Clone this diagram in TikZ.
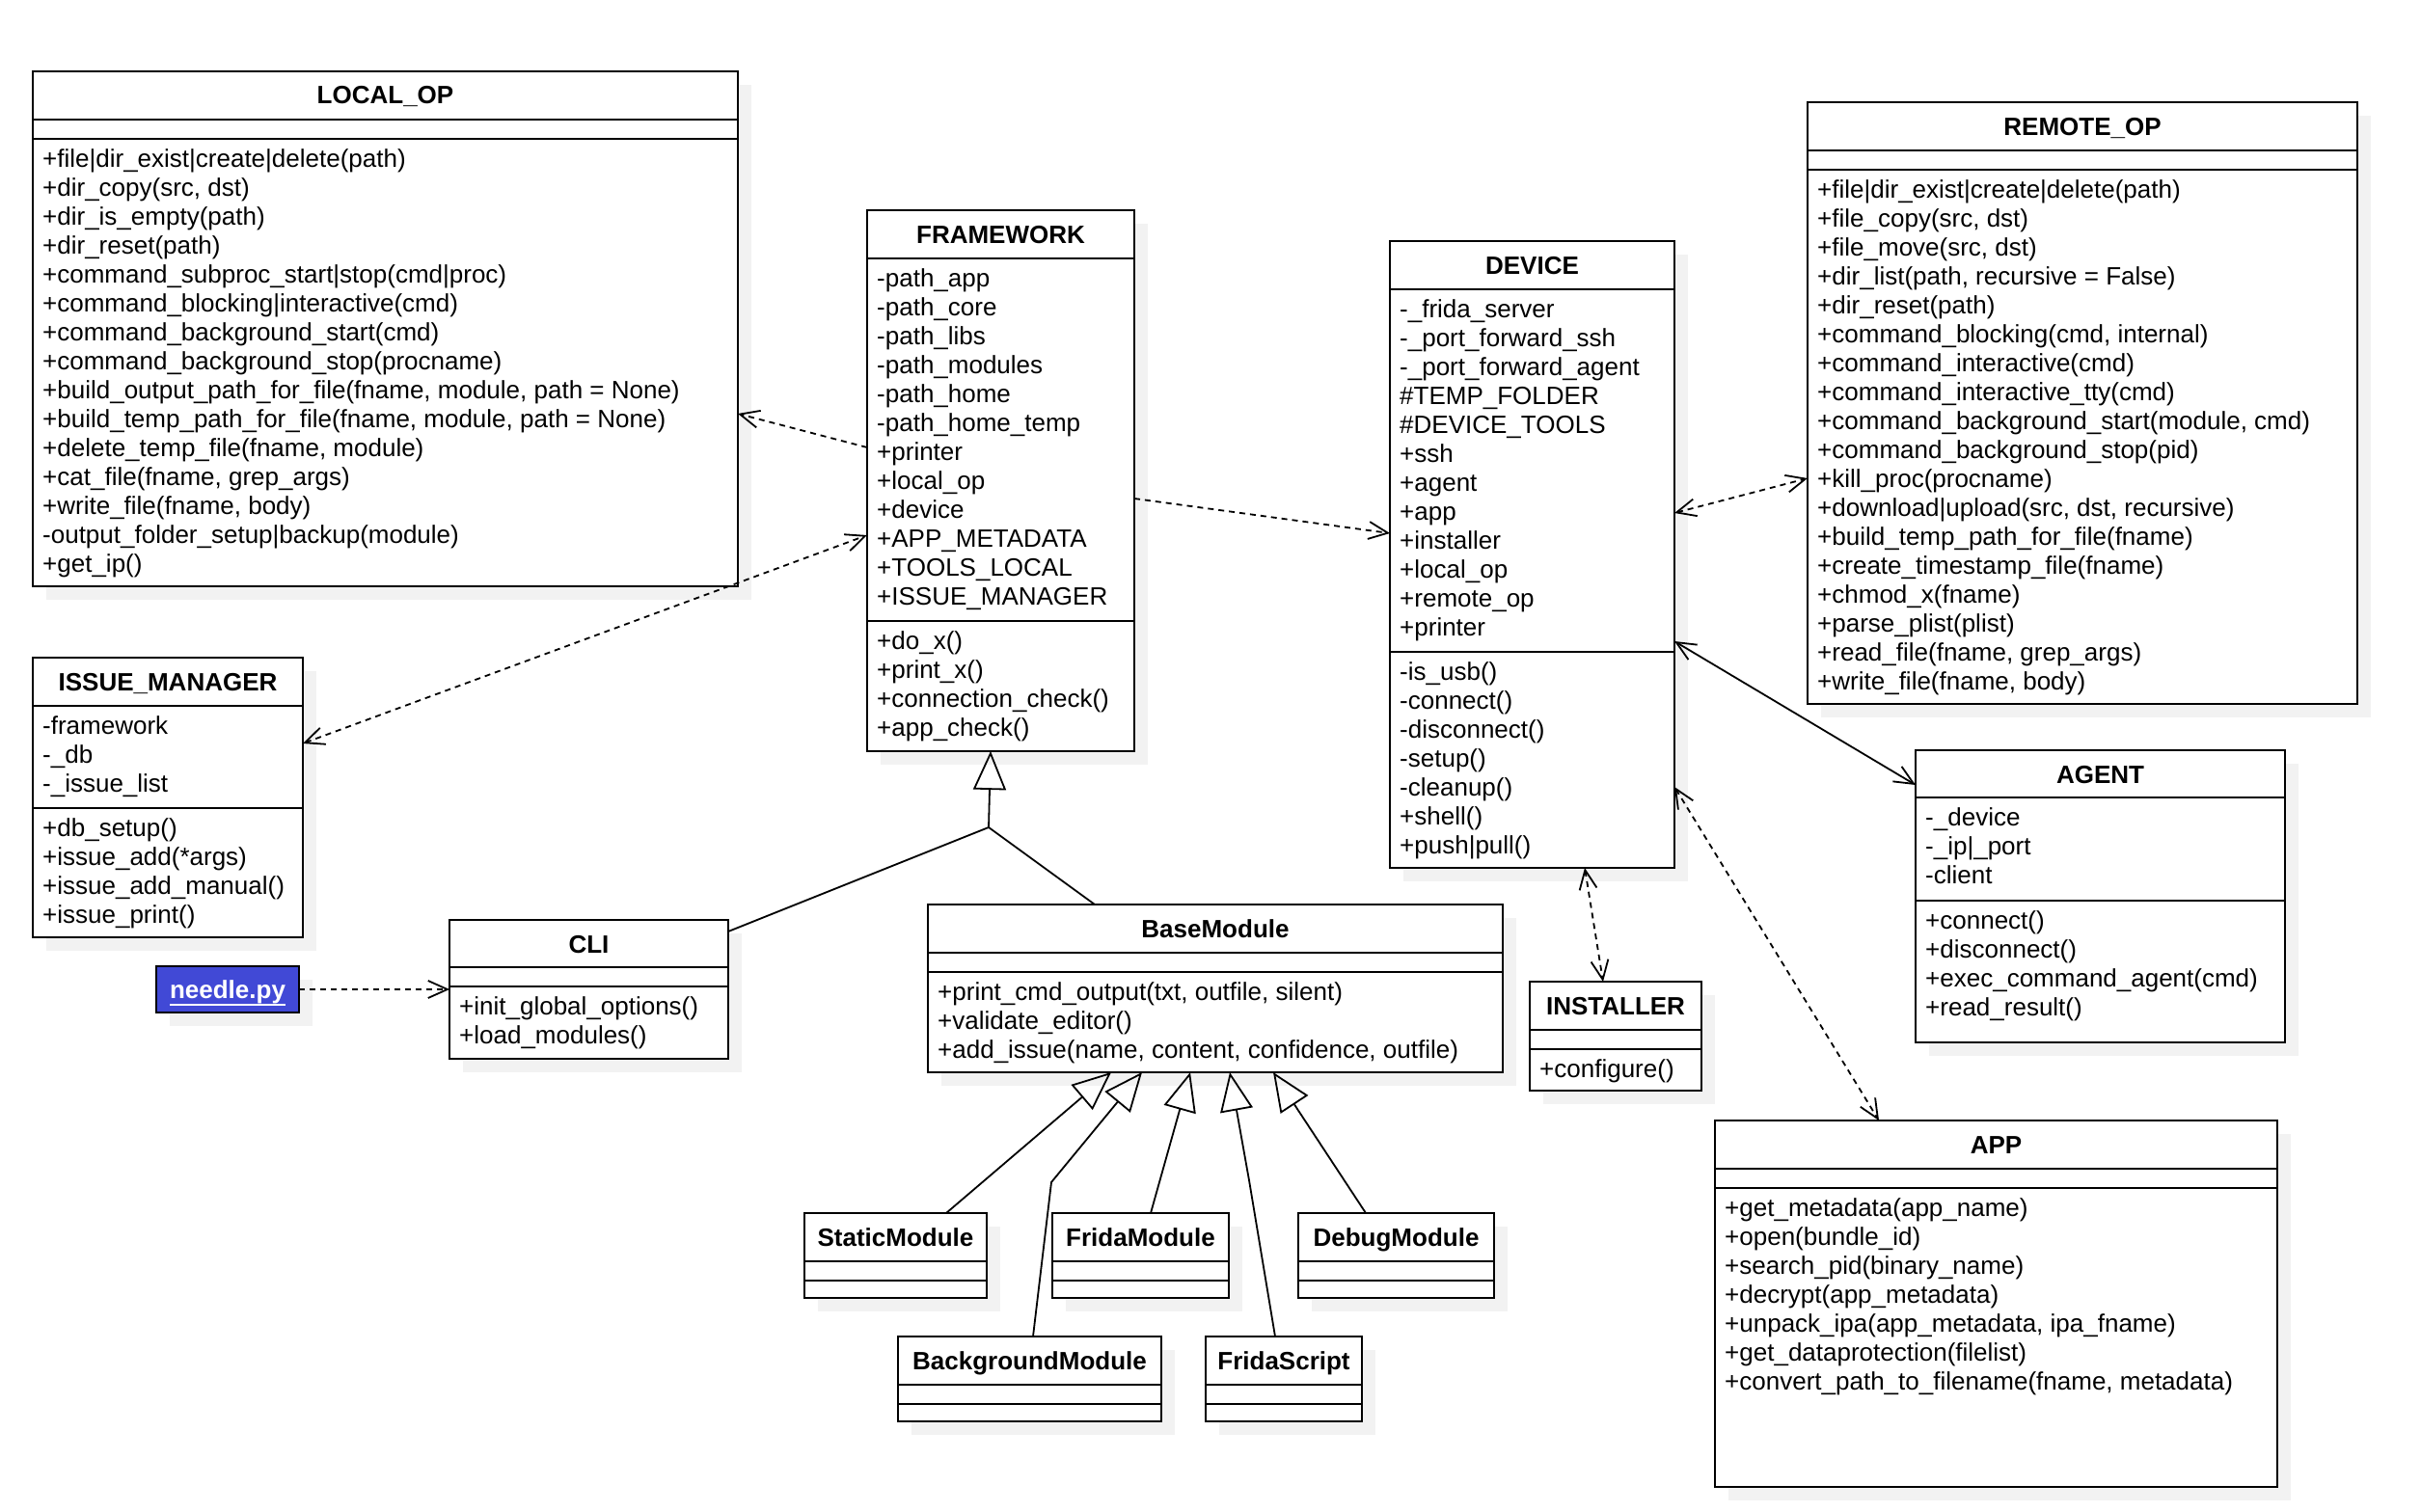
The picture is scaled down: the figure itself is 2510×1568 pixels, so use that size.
\documentclass[tikz,border=0pt]{standalone}
\usepackage{fontspec}
\setmainfont{Liberation Sans}
\usetikzlibrary{arrows.meta,calc}
\definecolor{shadowc}{HTML}{F2F2F2}
\definecolor{needleblue}{HTML}{4149D6}

\newcommand{\umlclass}[8]{%
  \fill[shadowc] ({#2+14},{#3+14}) rectangle ++(#4,#5);
  \node[clsbox, minimum width=#4pt, minimum height=#5pt, anchor=north west] (#1) at (#2,#3) {};
  \node[ttl] (#1-title) at ({#2+#4/2},{#3+34}) {#6};
  \draw[boxline] ($(#1.north west)+(0,#7)$) -- ($(#1.north east)+(0,#7)$);
  \draw[boxline] ($(#1.north west)+(0,#8)$) -- ($(#1.north east)+(0,#8)$);
}
\newcommand{\umllines}[4]{%
  \foreach \mytext [count=\i] in {#4} {
    \node[txt] (#1\i) at ({#2+10},{#3+30*(\i-1)}) {\mytext};
  }
}

\begin{document}
\begin{tikzpicture}[x=1pt,y=-1pt,
  boxline/.style={line width=2.2pt},
  clsbox/.style={draw, fill=white, line width=2.2pt, inner sep=0pt, outer sep=0pt},
  ttl/.style={anchor=base, inner sep=0pt, font=\fontsize{26}{30}\selectfont\bfseries},
  txt/.style={anchor=base west, inner sep=0pt, font=\fontsize{26}{30}\selectfont},
  dep/.style={line width=1.8pt, dash pattern=on 6pt off 5pt, -{Straight Barb[length=20pt,width=18pt]}},
  depboth/.style={line width=1.8pt, dash pattern=on 6pt off 5pt, {Straight Barb[length=20pt,width=18pt]}-{Straight Barb[length=20pt,width=18pt]}},
  assocboth/.style={line width=1.8pt, {Straight Barb[length=20pt,width=18pt]}-{Straight Barb[length=20pt,width=18pt]}},
  inh/.style={line width=1.8pt, -{Triangle[open,length=40pt,width=34pt]}},
  plain/.style={line width=1.8pt}
]
\useasboundingbox (0,0) rectangle (2510,1568);

% LOCAL_OP
\umlclass{LOCAL}{34}{74}{731}{534}{LOCAL\_OP}{50}{70}
\umllines{LOCAL-m}{34}{173}{{+file|dir\_exist|create|delete(path)},{+dir\_copy(src, dst)},{+dir\_is\_empty(path)},{+dir\_reset(path)},{+command\_subproc\_start|stop(cmd|proc)},{+command\_blocking|interactive(cmd)},{+command\_background\_start(cmd)},{+command\_background\_stop(procname)},{+build\_output\_path\_for\_file(fname, module, path = None)},{+build\_temp\_path\_for\_file(fname, module, path = None)},{+delete\_temp\_file(fname, module)},{+cat\_file(fname, grep\_args)},{+write\_file(fname, body)},{-output\_folder\_setup|backup(module)},{+get\_ip()}}

% FRAMEWORK
\umlclass{FW}{899}{218}{277}{561}{FRAMEWORK}{50}{426}
\umllines{FW-a}{899}{297}{{-path\_app},{-path\_core},{-path\_libs},{-path\_modules},{-path\_home},{-path\_home\_temp},{+printer},{+local\_op},{+device},{+APP\_METADATA},{+TOOLS\_LOCAL},{+ISSUE\_MANAGER}}
\umllines{FW-m}{899}{673}{{+do\_x()},{+print\_x()},{+connection\_check()},{+app\_check()}}

% DEVICE
\umlclass{DEV}{1441}{250}{295}{650}{DEVICE}{50}{426}
\umllines{DEV-a}{1441}{329}{{-\_frida\_server},{-\_port\_forward\_ssh},{-\_port\_forward\_agent},{\#TEMP\_FOLDER},{\#DEVICE\_TOOLS},{+ssh},{+agent},{+app},{+installer},{+local\_op},{+remote\_op},{+printer}}
\umllines{DEV-m}{1441}{705}{{-is\_usb()},{-connect()},{-disconnect()},{-setup()},{-cleanup()},{+shell()},{+push|pull()}}

% REMOTE_OP
\umlclass{REM}{1874}{106}{570}{624}{REMOTE\_OP}{50}{70}
\umllines{REM-m}{1874}{205}{{+file|dir\_exist|create|delete(path)},{+file\_copy(src, dst)},{+file\_move(src, dst)},{+dir\_list(path, recursive = False)},{+dir\_reset(path)},{+command\_blocking(cmd, internal)},{+command\_interactive(cmd)},{+command\_interactive\_tty(cmd)},{+command\_background\_start(module, cmd)},{+command\_background\_stop(pid)},{+kill\_proc(procname)},{+download|upload(src, dst, recursive)},{+build\_temp\_path\_for\_file(fname)},{+create\_timestamp\_file(fname)},{+chmod\_x(fname)},{+parse\_plist(plist)},{+read\_file(fname, grep\_args)},{+write\_file(fname, body)}}

% AGENT
\umlclass{AG}{1986}{778}{383}{303}{AGENT}{49}{156}
\umllines{AG-a}{1986}{856}{{-\_device},{-\_ip|\_port},{-client}}
\umllines{AG-m}{1986}{963}{{+connect()},{+disconnect()},{+exec\_command\_agent(cmd)},{+read\_result()}}

% APP
\umlclass{APP}{1778}{1162}{583}{380}{APP}{50}{70}
\umllines{APP-m}{1778}{1261}{{+get\_metadata(app\_name)},{+open(bundle\_id)},{+search\_pid(binary\_name)},{+decrypt(app\_metadata)},{+unpack\_ipa(app\_metadata, ipa\_fname)},{+get\_dataprotection(filelist)},{+convert\_path\_to\_filename(fname, metadata)}}

% ISSUE_MANAGER
\umlclass{ISS}{34}{682}{280}{290}{ISSUE\_MANAGER}{50}{156}
\umllines{ISS-a}{34}{761}{{-framework},{-\_db},{-\_issue\_list}}
\umllines{ISS-m}{34}{867}{{+db\_setup()},{+issue\_add(*args)},{+issue\_add\_manual()},{+issue\_print()}}

% CLI
\umlclass{CLI}{466}{954}{289}{144}{CLI}{49}{69}
\umllines{CLI-m}{466}{1052}{{+init\_global\_options()},{+load\_modules()}}

% BaseModule
\umlclass{BASE}{962}{938}{596}{174}{BaseModule}{50}{70}
\umllines{BASE-m}{962}{1037}{{+print\_cmd\_output(txt, outfile, silent)},{+validate\_editor()},{+add\_issue(name, content, confidence, outfile)}}

% INSTALLER
\umlclass{INST}{1586}{1018}{178}{113}{INSTALLER}{50}{70}
\umllines{INST-m}{1586}{1117}{{+configure()}}

% Modules
\umlclass{STAT}{834}{1258}{189}{88}{StaticModule}{50}{70}
\umlclass{FM}{1091}{1258}{183}{88}{FridaModule}{50}{70}
\umlclass{DM}{1346}{1258}{203}{88}{DebugModule}{50}{70}
\umlclass{BG}{931}{1386}{273}{88}{BackgroundModule}{50}{70}
\umlclass{FS}{1250}{1386}{162}{88}{FridaScript}{50}{70}

% needle.py
\fill[shadowc] (176,1016) rectangle ++(148,48);
\node[draw, fill=needleblue, line width=2.6pt, inner sep=0pt, outer sep=0pt, minimum width=148pt, minimum height=48pt, anchor=north west] (NEEDLE) at (162,1002) {};
\node[anchor=base, inner sep=0pt, text=white, font=\fontsize{26}{30}\selectfont\bfseries] (NEEDLE-t) at (NEEDLE.center |- 0,1035) {needle.py};
\draw[white, line width=2.2pt] ($(NEEDLE-t.south west)+(0,1)$) -- ($(NEEDLE-t.south east)+(0,1)$);

% dependencies
\draw[dep] ($(FW.north west)+(0,246)$) -- ($(LOCAL.north east)+(0,355)$);
\draw[depboth] ($(ISS.north east)+(0,89)$) -- ($(FW.north west)+(0,337)$);
\draw[dep] ($(FW.north east)+(0,299)$) -- ($(DEV.north west)+(0,303)$);
\draw[depboth] ($(DEV.north east)+(0,282)$) -- ($(REM.north west)+(0,390)$);
\draw[assocboth] ($(DEV.north east)+(0,415)$) -- ($(AG.north west)+(0,36)$);
\draw[depboth] ($(DEV.north east)+(0,566)$) -- ($(APP.north west)+(170,0)$);
\draw[depboth] ($(DEV.south west)+(202,0)$) -- ($(INST.north west)+(76,0)$);
\draw[dep] (NEEDLE.east) -- ($(CLI.north west)+(0,72)$);

% inheritance
\coordinate (J) at ($(FW.south west)+(126,79)$);
\draw[plain] ($(CLI.north east)+(0,12)$) -- (J) -- ($(BASE.north west)+(173,0)$);
\draw[inh] (J) -- ($(FW.south west)+(128,0)$);
\draw[inh] ($(STAT.north west)+(147,0)$) -- ($(BASE.south west)+(190,0)$);
\coordinate (BGbend) at ($(BG.north west)+(159,-160)$);
\draw[inh] ($(BG.north west)+(140,0)$) -- (BGbend) -- ($(BASE.south west)+(222,0)$);
\draw[inh] ($(FM.north west)+(102,0)$) -- ($(BASE.south west)+(272,0)$);
\coordinate (FSbend) at ($(FS.north west)+(45,-162)$);
\draw[inh] ($(FS.north west)+(72,0)$) -- (FSbend) -- ($(BASE.south west)+(313,0)$);
\draw[inh] ($(DM.north west)+(70,0)$) -- ($(BASE.south west)+(358,0)$);
\end{tikzpicture}
\end{document}
